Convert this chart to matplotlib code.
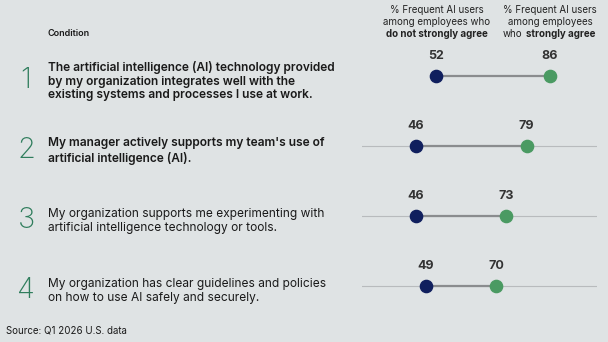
import matplotlib.pyplot as plt

plt.rcParams["font.family"] = ["Inter", "DejaVu Sans"]

conditions = [
    "The artificial intelligence (AI) technology provided\nby my organization integrates well with the\nexisting systems and processes I use at work.",
    "My manager actively supports my team's use of\nartificial intelligence (AI).",
    "My organization supports me experimenting with\nartificial intelligence technology or tools.",
    "My organization has clear guidelines and policies\non how to use AI safely and securely.",
]
bold_rows = [True, True, False, False]
not_strongly = [52, 46, 46, 49]
strongly = [86, 79, 73, 70]

BG = "#dfe3e4"
NAVY = "#101f5e"
GREEN = "#4a9a62"
NUM_GREEN = "#2f7d5c"
TEXT = "#1a1a1a"

W, H = 608, 342
fig = plt.figure(figsize=(W / 100, H / 100), dpi=100)
fig.patch.set_facecolor(BG)


def fx(px):
    return px / W


def fy(py):
    return 1 - py / H


ax = fig.add_axes([fx(362), fy(321), (597 - 362) / W, 280 / H])
ax.set_facecolor(BG)
ax.set_xlim(30, 100)
ax.set_ylim(3.5, -0.5)
ax.axis("off")

for i, (a, b) in enumerate(zip(not_strongly, strongly)):
    if i > 0:
        ax.axhline(i, color="#b8bbbd", lw=0.8, zorder=1)
    ax.plot([a, b], [i, i], color="#8a8c8e", lw=1.6, zorder=2)
    ax.plot(a, i, "o", ms=8.8, color=NAVY, zorder=3)
    ax.plot(b, i, "o", ms=8.8, color=GREEN, zorder=3)
    for v in (a, b):
        ax.text(v, i - 0.2, str(v), ha="center", va="bottom", fontsize=9,
                fontweight="bold", color="#333333")

    row_y = 76 + 70 * i
    fig.text(fx(26), fy(row_y + 4), str(i + 1), ha="center", va="center",
             fontsize=21, fontweight="light", color=NUM_GREEN)
    fig.text(fx(48), fy(row_y + 5), conditions[i], ha="left", va="center",
             fontsize=8.6, linespacing=1.22, color=TEXT,
             fontweight="semibold" if bold_rows[i] else "normal")

fig.text(fx(48), fy(33), "Condition", ha="left", va="center", fontsize=6.5,
         fontweight="semibold", color=TEXT)

hdr_kw = dict(fontsize=7, color="#222222", va="center")
fig.text(fx(437), fy(10), "% Frequent AI users", ha="center", **hdr_kw)
fig.text(fx(437), fy(22), "among employees who", ha="center", **hdr_kw)
fig.text(fx(437), fy(34), "do not strongly agree", ha="center",
         fontweight="bold", **hdr_kw)
fig.text(fx(550), fy(10), "% Frequent AI users", ha="center", **hdr_kw)
fig.text(fx(550), fy(22), "among employees", ha="center", **hdr_kw)
fig.text(fx(522), fy(34), "who", ha="right", **hdr_kw)
fig.text(fx(526), fy(34), "strongly agree", ha="left", fontweight="bold",
         **hdr_kw)

fig.text(fx(6), fy(331), "Source: Q1 2026 U.S. data", ha="left", va="center",
         fontsize=7, color=TEXT)

fig.savefig("out.png", dpi=100, facecolor=BG)
